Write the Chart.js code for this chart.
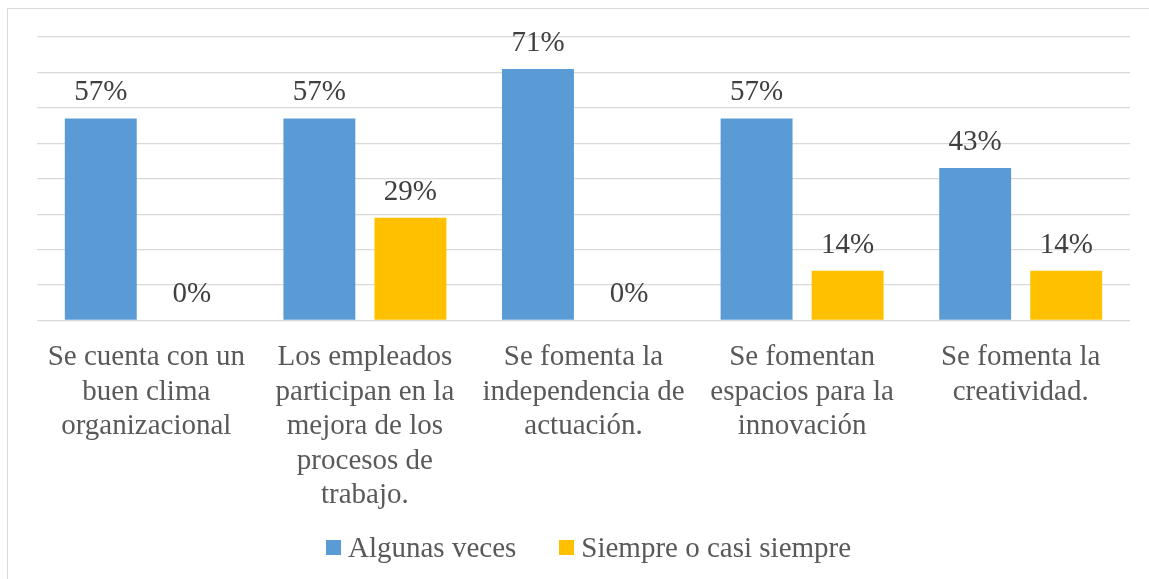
<!DOCTYPE html>
<html>
<head>
<meta charset="utf-8">
<script src="https://cdn.jsdelivr.net/npm/chart.js@4"></script>
<style>
  html, body { margin: 0; padding: 0; background: #fff; overflow: hidden; }
  #marco { position: absolute; left: 7px; top: 8px; width: 1160px; height: 600px; border: 1px solid #d9d9d9; }
  #grafico { position: absolute; left: 0; top: 0; }
  #leyenda { position: absolute; left: 326px; top: 530px; height: 34px; display: flex; align-items: center;
    font-family: "Liberation Serif", Tinos, "Times New Roman", "DejaVu Serif", serif; font-size: 29px; color: #595959; }
  #leyenda span.caja { display: inline-block; width: 15px; height: 15px; margin-right: 7px; }
  #leyenda span.item { display: flex; align-items: center; margin-right: 43px; }
</style>
</head>
<body>
<div id="marco"></div>
<canvas id="grafico" width="1149" height="579"></canvas>
<div id="leyenda"></div>
<script>
var categorias = [
  ["Se cuenta con un", "buen clima", "organizacional"],
  ["Los empleados", "participan en la", "mejora de los", "procesos de", "trabajo."],
  ["Se fomenta la", "independencia de", "actuación."],
  ["Se fomentan", "espacios para la", "innovación"],
  ["Se fomenta la", "creatividad."]
];
var algunasVeces = [57, 57, 71, 57, 43];
var siempre = [0, 29, 0, 14, 14];
var nombresSeries = ["Algunas veces", "Siempre o casi siempre"];
var colores = ["#5b9bd5", "#ffc000"];

var fuente = '"Liberation Serif", Tinos, "Times New Roman", "DejaVu Serif", serif';

// etiquetas de porcentaje encima de cada barra
var etiquetasValor = {
  id: 'etiquetasValor',
  afterDatasetsDraw: function(chart) {
    var ctx = chart.ctx;
    ctx.save();
    ctx.font = "29px " + fuente;
    ctx.fillStyle = "#404040";
    ctx.textAlign = "center";
    ctx.textBaseline = "alphabetic";
    chart.data.datasets.forEach(function(ds, i) {
      chart.getDatasetMeta(i).data.forEach(function(barra, j) {
        ctx.fillText(ds.data[j] + "%", barra.x, barra.y - 18);
      });
    });
    ctx.restore();
  }
};

new Chart(document.getElementById("grafico"), {
  type: 'bar',
  data: {
    labels: categorias,
    datasets: [{
      label: nombresSeries[0],
      data: algunasVeces,
      backgroundColor: colores[0]
    }, {
      label: nombresSeries[1],
      data: siempre,
      backgroundColor: colores[1]
    }]
  },
  options: {
    responsive: false,
    animation: false,
    categoryPercentage: 0.833,
    barPercentage: 0.79,
    layout: { padding: { left: 37, right: 19, top: 37, bottom: 54 } },
    plugins: {
      legend: { display: false },
      tooltip: { enabled: false }
    },
    scales: {
      x: {
        grid: { display: false },
        border: { display: false },
        ticks: {
          color: "#595959",
          font: { family: fuente, size: 29, lineHeight: 1.19 },
          maxRotation: 0,
          autoSkip: false,
          padding: 12
        }
      },
      y: {
        min: 0,
        max: 80,
        border: { display: false },
        grid: { color: "#d9d9d9", lineWidth: 1.3, drawTicks: false },
        ticks: { display: false, stepSize: 10 }
      }
    }
  },
  plugins: [etiquetasValor]
});

// leyenda
var leyenda = document.getElementById("leyenda");
nombresSeries.forEach(function(nombre, i) {
  var item = document.createElement("span");
  item.className = "item";
  var caja = document.createElement("span");
  caja.className = "caja";
  caja.style.background = colores[i];
  item.appendChild(caja);
  item.appendChild(document.createTextNode(nombre));
  leyenda.appendChild(item);
});
</script>
</body>
</html>
